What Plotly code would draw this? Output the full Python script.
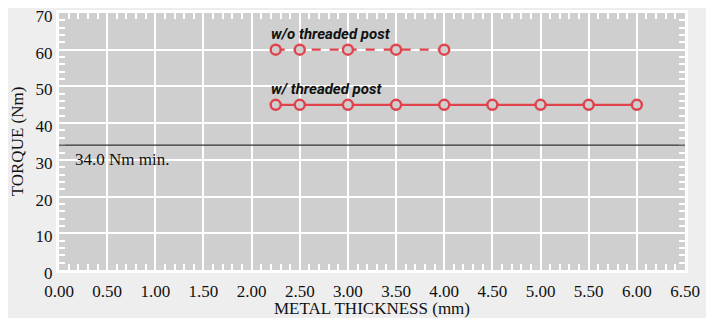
import plotly.graph_objects as go

# Data
thick_without = [2.25, 2.5, 3.0, 3.5, 4.0]
torque_without = [60, 60, 60, 60, 60]
thick_with = [2.25, 2.5, 3.0, 3.5, 4.0, 4.5, 5.0, 5.5, 6.0]
torque_with = [45, 45, 45, 45, 45, 45, 45, 45, 45]
min_torque = 34.0
x_ticks = [0.0, 0.5, 1.0, 1.5, 2.0, 2.5, 3.0, 3.5, 4.0, 4.5, 5.0, 5.5, 6.0, 6.5]
x_tick_labels = [f"{v:.2f}" for v in x_ticks]
y_ticks = [0, 10, 20, 30, 40, 50, 60, 70]

RED = "#e0434c"
PLOT_BG = "#cfcfcf"
PAPER_BG = "#eeeeee"

fig = go.Figure()

marker = dict(symbol="circle", size=10, color=PLOT_BG, line=dict(color=RED, width=2.4))

fig.add_trace(go.Scatter(x=thick_without, y=torque_without, mode="lines+markers",
                         line=dict(color=RED, width=2.2, dash="dash"), marker=marker,
                         showlegend=False))
fig.add_trace(go.Scatter(x=thick_with, y=torque_with, mode="lines+markers",
                         line=dict(color=RED, width=2.2), marker=marker,
                         showlegend=False))

fig.add_hline(y=min_torque, line=dict(color="#333333", width=1.3))

fig.add_annotation(x=0.15, y=min_torque, xref="x", yref="y", text="34.0 Nm min.",
                   showarrow=False, xanchor="left", yanchor="top", yshift=-3,
                   font=dict(family="Liberation Serif", size=17, color="#111111"))
fig.add_annotation(x=thick_without[0], y=torque_without[0], text="<b><i>w/o threaded post</i></b>",
                   showarrow=False, xanchor="left", yanchor="bottom", xshift=-7, yshift=5,
                   font=dict(family="Roboto", size=15, color="#111111"))
fig.add_annotation(x=thick_with[0], y=torque_with[0], text="<b><i>w/ threaded post</i></b>",
                   showarrow=False, xanchor="left", yanchor="bottom", xshift=-7, yshift=5,
                   font=dict(family="Roboto", size=15, color="#111111"))

tickfont = dict(family="Liberation Serif", size=17, color="#111111")

fig.update_layout(
    width=706, height=310,
    margin=dict(l=51, r=29, t=5, b=48, autoexpand=False),
    paper_bgcolor=PAPER_BG, plot_bgcolor=PLOT_BG,
    font=dict(family="Liberation Serif", size=17, color="#111111"),
)
fig.update_xaxes(range=[0, 6.5], tickvals=x_ticks, ticktext=x_tick_labels, tickfont=tickfont,
                 showgrid=True, gridcolor="white", gridwidth=1.5, zeroline=False,
                 showline=True, linecolor="white", linewidth=3, mirror="allticks",
                 ticks="inside", ticklen=0, tickcolor="white", automargin=False,
                 ticklabeloverflow="allow", ticklabelstandoff=4,
                 minor=dict(dtick=0.1, ticks="inside", ticklen=6, tickcolor="white", tickwidth=1.5, showgrid=False),
                 title=dict(text="METAL THICKNESS (mm)", font=dict(family="Liberation Serif", size=17), standoff=0))
fig.update_yaxes(range=[0, 70], tickvals=y_ticks, tickfont=tickfont,
                 showgrid=True, gridcolor="white", gridwidth=1.5, zeroline=False,
                 showline=True, linecolor="white", linewidth=3, mirror="allticks",
                 ticks="inside", ticklen=0, tickcolor="white", automargin=False,
                 ticklabeloverflow="allow", ticklabelshift=3,
                 minor=dict(dtick=2, ticks="inside", ticklen=6, tickcolor="white", tickwidth=1.5, showgrid=False),
                 title=dict(text="TORQUE (Nm)", font=dict(family="Liberation Serif", size=17), standoff=8))

fig.write_html("out.html")
